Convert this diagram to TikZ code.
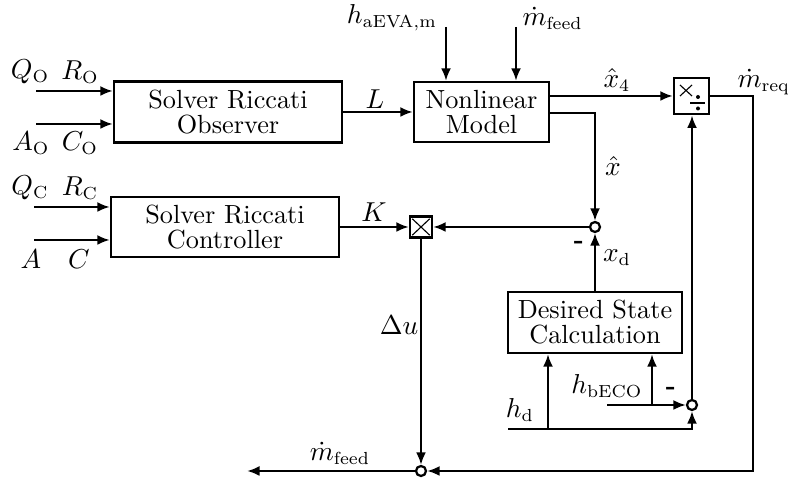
\documentclass[tikz,border=0pt]{standalone}
\usetikzlibrary{arrows.meta}
\begin{document}
\begin{tikzpicture}[x=0.4pt,y=-0.4pt,
  every node/.style={font=\fontsize{10.5}{12}\selectfont},
  blk/.style={draw,line width=0.95pt,inner sep=0pt,align=center},
  conn/.style={line width=0.95pt,-{Latex[length=5pt,width=4pt]}},
  wire/.style={line width=0.95pt},
  sumc/.style={circle,draw,line width=0.9pt,fill=white,minimum size=4pt,inner sep=0pt},
  lbl/.style={inner sep=0pt},
  thin/.style={line width=0.45pt}]
\useasboundingbox (0,0) rectangle (788,478);
% blocks
\node[blk,minimum width=91.2pt,minimum height=24.4pt] (obs) at (228,112) {Solver Riccati\\[-2pt]Observer};
\node[blk,minimum width=91.2pt,minimum height=24pt] (ctrl) at (225,227) {Solver Riccati\\[-2pt]Controller};
\node[blk,minimum width=54pt,minimum height=24pt] (nlm) at (481.5,112) {Nonlinear\\[-2pt]Model};
\node[blk,minimum width=14pt,minimum height=14.6pt] (md) at (691.5,96) {};
\node[blk,minimum width=8.8pt,minimum height=8.4pt] (mx) at (421,227) {};
\node[blk,minimum width=69.6pt,minimum height=24.4pt] (des) at (595,322.5) {Desired State\\[-2pt]Calculation};
% sum points
\node[sumc] (s1) at (595,227) {};
\node[sumc] (s2) at (692,405) {};
\node[sumc] (s3) at (421,471) {};
% symbols inside boxes
\draw[thin] (680,85) -- (692,96) (680,96) -- (692,85);
\draw[thin] (690,103) -- (705,103);
\fill (698,97) circle (0.8pt) (698,108.5) circle (0.8pt);
\draw[thin] ([shift={(3.5,3.5)}]mx.north west) -- ([shift={(-3.5,-3.5)}]mx.south east)
            ([shift={(3.5,-3.5)}]mx.south west) -- ([shift={(-3.5,3.5)}]mx.north east);
% free ends
\coordinate (oq) at (36,91);
\coordinate (oa) at (36,124);
\coordinate (cq) at (34,207);
\coordinate (ca) at (34,240);
\coordinate (ha) at (446,27);
\coordinate (mf) at (516,27);
\coordinate (hd) at (508,429);
\coordinate (hdb) at (548,429);
\coordinate (hb) at (607,405);
\coordinate (hbb) at (652,405);
\coordinate (out) at (247,471);
\coordinate (corner) at (753,96);
% connectors
\draw[conn] (oq) -- (oq -| obs.west);
\draw[conn] (oa) -- (oa -| obs.west);
\draw[conn] (cq) -- (cq -| ctrl.west);
\draw[conn] (ca) -- (ca -| ctrl.west);
\draw[conn] (obs.east) -- (nlm.west);
\draw[conn] (ha) -- (ha |- nlm.north);
\draw[conn] (mf) -- (mf |- nlm.north);
\draw[conn] (md.west -| nlm.east) -- (md.west);
\draw[conn] ([yshift=-0.4pt]nlm.east) -| (s1.north);
\draw[conn] (s1.west) -- (mx.east);
\draw[conn] (ctrl.east) -- (mx.west);
\draw[conn] (des.north) -- (s1.south);
\draw[conn] (mx.south) -- (s3.north);
\draw[conn] (md.east) -- (corner) |- (s3.east);
\draw[conn] (s3.west) -- (out);
\draw[conn] (hd) -| (s2.south);
\draw[conn] (hdb) -- (hdb |- des.south);
\draw[conn] (hb) -- (s2.west);
\draw[conn] (hbb) -- (hbb |- des.south);
\draw[conn] (s2.north) -- (md.south -| s2.north);
% labels
\node[lbl] (lQo) at (30,72) {$Q_\mathrm{O}$};
\node[lbl] (lRo) at (80,72) {$R_\mathrm{O}$};
\node[lbl] (lAo) at (31,143) {$A_\mathrm{O}$};
\node[lbl] (lCo) at (80,143) {$C_\mathrm{O}$};
\node[lbl] (lQc) at (30,188) {$Q_\mathrm{C}$};
\node[lbl] (lRc) at (80,188) {$R_\mathrm{C}$};
\node[lbl] (lA) at (31,259) {$A$};
\node[lbl] (lC) at (79,259) {$C$};
\node[lbl] (lL) at (375,99) {$L$};
\node[lbl] (lK) at (374,212) {$K$};
\node[lbl] (lha) at (392,18) {$h_\mathrm{aEVA,m}$};
\node[lbl,anchor=west] (lmf) at (522,18) {$\dot m_\mathrm{feed}$};
\node[lbl] (lx4) at (617,80) {$\hat x_4$};
\node[lbl,anchor=west] (lmr) at (737,82) {$\dot m_\mathrm{req}$};
\node[lbl] (lxh) at (613,166) {$\hat x$};
\node[lbl] (lxd) at (617,258) {$x_\mathrm{d}$};
\node[lbl] (ldu) at (399,325) {$\Delta u$};
\node[lbl] (lhb) at (607,386) {$h_\mathrm{bECO}$};
\node[lbl] (lhd) at (520,410) {$h_\mathrm{d}$};
\node[lbl] (lmf2) at (340,453) {$\dot m_\mathrm{feed}$};
\node[lbl] (m1) at (579,245) {\textbf{-}};
\node[lbl] (m2) at (671,391) {\textbf{-}};
\end{tikzpicture}
\end{document}
